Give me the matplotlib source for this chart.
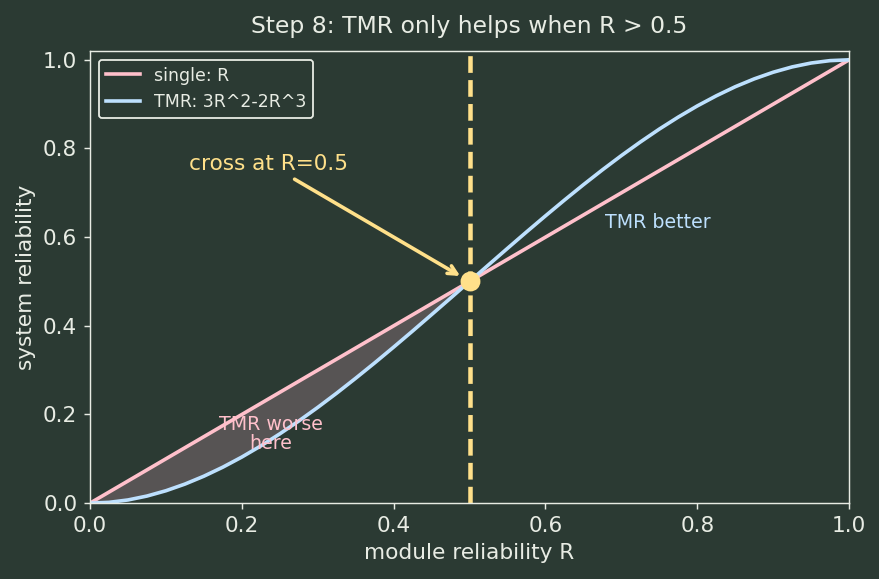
import matplotlib
matplotlib.use('Agg')
import matplotlib.pyplot as plt

plt.rcParams['font.family'] = ['DejaVu Sans']

# module reliability R and read-off system reliability values
r_vals = [0.0, 0.025, 0.05, 0.075, 0.1, 0.125, 0.15, 0.175, 0.2, 0.225, 0.25,
          0.275, 0.3, 0.325, 0.35, 0.375, 0.4, 0.425, 0.45, 0.475, 0.5,
          0.525, 0.55, 0.575, 0.6, 0.625, 0.65, 0.675, 0.7, 0.725, 0.75,
          0.775, 0.8, 0.825, 0.85, 0.875, 0.9, 0.925, 0.95, 0.975, 1.0]
single_vals = r_vals[:]   # single module: same as R
tmr_vals = [0.0, 0.0018, 0.0072, 0.016, 0.028, 0.043, 0.0608, 0.0812, 0.104, 0.1291, 0.1563,
            0.1853, 0.216, 0.2482, 0.2818, 0.3164, 0.352, 0.3883, 0.4253, 0.4625, 0.5,
            0.5375, 0.5748, 0.6117, 0.648, 0.6836, 0.7183, 0.7518, 0.784, 0.8147, 0.8438,
            0.8709, 0.896, 0.9188, 0.9393, 0.957, 0.972, 0.984, 0.9928, 0.9982, 1.0]
cross_r = 0.5
cross_y = 0.5

bg = '#2b3a33'
fg = '#e8ece4'
pink = '#ffc0cb'
blue = '#bde0fe'
yellow = '#ffe08a'

fig, ax = plt.subplots(figsize=(879 / 130, 579 / 130), dpi=130)
fig.patch.set_facecolor(bg)
ax.set_facecolor(bg)

ax.plot(r_vals, single_vals, color=pink, lw=2, label='single: R')
ax.plot(r_vals, tmr_vals, color=blue, lw=2, label='TMR: 3R^2-2R^3')

# shade region where TMR is worse (R < 0.5)
n_half = r_vals.index(cross_r) + 1
ax.fill_between(r_vals[:n_half], tmr_vals[:n_half], single_vals[:n_half],
                color='#575454', lw=0)

ax.axvline(cross_r, color=yellow, lw=2.5, ls='--')
ax.plot([cross_r], [cross_y], 'o', color=yellow, ms=10, zorder=5)

ax.annotate('cross at R=0.5', xy=(cross_r, cross_y), xytext=(0.13, 0.752),
            color=yellow, fontsize=12,
            arrowprops=dict(arrowstyle='->', color=yellow, lw=2, shrinkB=6))

ax.text(0.748, 0.632, 'TMR better', color=blue, fontsize=10.5, ha='center', va='center')
ax.text(0.238, 0.155, 'TMR worse\nhere', color=pink, fontsize=10.5, ha='center',
        va='center', linespacing=1.0)

ax.set_xlim(0, 1)
ax.set_ylim(0, 1.02)
ax.set_xlabel('module reliability R', color=fg, fontsize=12)
ax.set_ylabel('system reliability', color=fg, fontsize=12)
ax.set_title('Step 8: TMR only helps when R > 0.5', color=fg, fontsize=13, pad=10)
ax.tick_params(colors=fg, labelsize=12)
for s in ax.spines.values():
    s.set_color(fg)

leg = ax.legend(loc='upper left', fontsize=9.6, facecolor=bg, edgecolor=fg, framealpha=1)
for t in leg.get_texts():
    t.set_color(fg)

fig.subplots_adjust(left=0.1024, right=0.966, top=0.912, bottom=0.131)
fig.savefig('out.png', dpi=130, facecolor=bg)
